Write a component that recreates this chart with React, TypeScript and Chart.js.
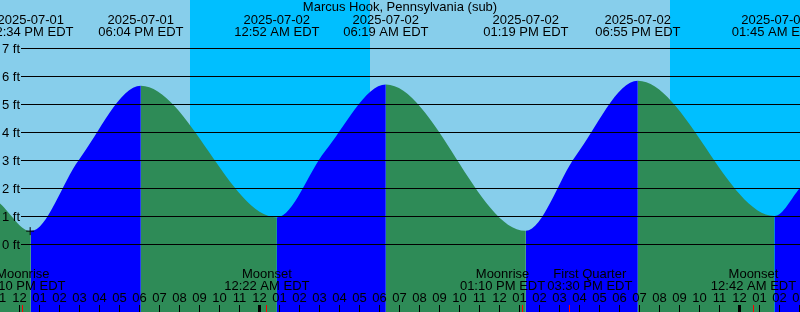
import React, { useEffect, useRef } from "react";
import { Chart, registerables } from "chart.js";

Chart.register(...registerables);

// ---------------- data ----------------
const TITLE = "Marcus Hook, Pennsylvania (sub)";
const TZ = "EDT";

// visible time window
const VIEW_START = "2025-07-01 11:01:30";
const VIEW_HOURS = 40;

// labelled highs / lows
const HILO_TIMES = [
  "2025-07-01 12:34",
  "2025-07-01 18:04",
  "2025-07-02 00:52",
  "2025-07-02 06:19",
  "2025-07-02 13:19",
  "2025-07-02 18:55",
  "2025-07-03 01:45",
];
const HILO_FT = [0.46, 5.65, 0.95, 5.7, 0.47, 5.83, 1.0];

// other curve readings: window edges and mid-flood levels
const CURVE_TIMES = [
  "2025-07-01 11:01:30",
  "2025-07-01 14:58",
  "2025-07-02 03:16",
  "2025-07-02 15:49",
  "2025-07-03 03:01:30",
];
const CURVE_FT = [1.45, 3.0, 3.3, 3.15, 2.0];

// night (sunset -> sunrise)
const NIGHT_STARTS = ["2025-07-01 20:30", "2025-07-02 20:30"];
const NIGHT_ENDS = ["2025-07-02 05:33", "2025-07-03 05:33"];

// moon events
const MOON_TIMES = [
  "2025-07-01 12:10",
  "2025-07-02 00:22",
  "2025-07-02 13:10",
  "2025-07-02 15:30",
  "2025-07-03 00:42",
];
const MOON_EVENTS = ["Moonrise", "Moonset", "Moonrise", "First Quarter", "Moonset"];

// level grid (ft)
const LEVELS_FT = [0, 1, 2, 3, 4, 5, 6, 7];
const Y_MIN_FT = -68 / 28;
const Y_MAX_FT = 244 / 28;

// "+" marker
const MARK_TIME = "2025-07-01 12:32";
const MARK_FT = 0.46;

// ---------------- styles ----------------
const DAY = "#87CEEB";
const NIGHT = "#00BFFF";
const RISE = "#0000FF";
const FALL = "#2E8B57";
const FONT = '13px "Liberation Sans", Arial, sans-serif';

// ---------------- helpers ----------------
function toHours(s: string): number {
  const [d, t] = s.split(" ");
  const day = parseInt(d.split("-")[2], 10) - 1;
  const p = t.split(":").map((v) => parseFloat(v));
  return day * 24 + p[0] + p[1] / 60 + (p[2] || 0) / 3600;
}
const pad2 = (n: number) => (n < 10 ? "0" : "") + n;
function fmtTime(s: string): string {
  const t = s.split(" ")[1].split(":").map((v) => parseInt(v, 10));
  const h = t[0];
  const h12 = h % 12 === 0 ? 12 : h % 12;
  return `${pad2(h12)}:${pad2(t[1])} ${h < 12 ? "AM" : "PM"} ${TZ}`;
}
const fmtDate = (s: string) => s.split(" ")[0];

const X_MIN = toHours(VIEW_START);
const X_MAX = X_MIN + VIEW_HOURS;

const decorPlugin = {
  id: "tideDecor",
  beforeDraw(chart: any) {
    const { ctx, chartArea: a, scales } = chart;
    const x = scales.x;
    ctx.save();
    ctx.fillStyle = DAY;
    ctx.fillRect(a.left, a.top, a.right - a.left, a.bottom - a.top);
    ctx.fillStyle = NIGHT;
    NIGHT_STARTS.forEach((s, i) => {
      const l = Math.max(a.left, Math.round(x.getPixelForValue(toHours(s))));
      const r = Math.min(a.right, Math.round(x.getPixelForValue(toHours(NIGHT_ENDS[i]))));
      if (r > l) ctx.fillRect(l, a.top, r - l, a.bottom - a.top);
    });
    ctx.restore();
  },
  afterDatasetsDraw(chart: any) {
    const { ctx, chartArea: a, scales } = chart;
    const x = scales.x;
    const y = scales.y;
    ctx.save();
    ctx.font = FONT;
    ctx.fillStyle = "#000";

    // level lines and labels
    const labelRight = a.left + 20;
    LEVELS_FT.forEach((lv) => {
      const py = Math.round(y.getPixelForValue(lv));
      ctx.fillStyle = "#000";
      ctx.fillRect(labelRight + 1, py, a.right - labelRight - 1, 1);
      ctx.textAlign = "right";
      ctx.textBaseline = "alphabetic";
      ctx.fillText(`${lv} ft`, labelRight, py + 4.5);
    });

    // hour ticks + labels
    const tickLen = 7;
    ctx.textAlign = "center";
    for (let h = Math.floor(X_MIN); h <= Math.ceil(X_MAX); h++) {
      const px = Math.floor(x.getPixelForValue(h));
      ctx.fillStyle = "#000";
      if (h % 24 === 0) ctx.fillRect(px - 1, a.bottom - tickLen, 3, tickLen);
      else ctx.fillRect(px, a.bottom - tickLen, 1, tickLen);
      const hh = h % 24;
      const h12 = hh % 12 === 0 ? 12 : hh % 12;
      ctx.fillText(pad2(h12), px + 0.5, a.bottom - 10);
    }

    // moon event ticks
    ctx.fillStyle = "#FF0000";
    MOON_TIMES.forEach((t) => {
      const px = Math.floor(x.getPixelForValue(toHours(t)));
      ctx.fillRect(px, a.bottom - tickLen, 1, tickLen);
    });

    // moon labels with simple collision spreading
    ctx.fillStyle = "#000";
    const gap = 2;
    const labels = MOON_TIMES.map((t, i) => {
      const l1 = MOON_EVENTS[i];
      const l2 = fmtTime(t);
      const w = Math.max(ctx.measureText(l1).width, ctx.measureText(l2).width);
      return { cx: x.getPixelForValue(toHours(t)), w, l1, l2 };
    });
    for (let i = 0; i + 1 < labels.length; i++) {
      const p = labels[i];
      const q = labels[i + 1];
      const need = (p.w + q.w) / 2 + gap;
      if (q.cx - p.cx < need) {
        const mid = (p.cx + q.cx) / 2;
        p.cx = mid - need / 2;
        q.cx = mid + need / 2;
      }
    }
    labels.forEach((lb) => {
      ctx.fillText(lb.l1, lb.cx, a.bottom - 34);
      ctx.fillText(lb.l2, lb.cx, a.bottom - 22);
    });

    // high / low labels
    HILO_TIMES.forEach((t) => {
      const px = x.getPixelForValue(toHours(t));
      ctx.fillText(fmtDate(t), px, a.top + 24);
      ctx.fillText(fmtTime(t), px, a.top + 36);
    });

    // title
    ctx.fillText(TITLE, (a.left + a.right) / 2, a.top + 11);
    ctx.restore();
  },
};

export default function App() {
  const ref = useRef<HTMLCanvasElement | null>(null);

  useEffect(() => {
    document.body.style.margin = "0";
    const canvas = ref.current;
    if (!canvas) return;
    const curve = [
      ...HILO_TIMES.map((t, i) => ({ x: toHours(t), y: HILO_FT[i] })),
      ...CURVE_TIMES.map((t, i) => ({ x: toHours(t), y: CURVE_FT[i] })),
    ].sort((p, q) => p.x - q.x);
    const chart = new Chart(canvas, {
      type: "line",
      data: {
        datasets: [
          {
            data: curve,
            fill: "start",
            borderWidth: 0,
            borderColor: "rgba(0,0,0,0)",
            backgroundColor: FALL,
            pointRadius: 0,
            cubicInterpolationMode: "monotone",
            segment: {
              backgroundColor: (c: any) => (c.p1.parsed.y > c.p0.parsed.y ? RISE : FALL),
            },
            order: 2,
          } as any,
          {
            type: "scatter",
            data: [{ x: toHours(MARK_TIME), y: MARK_FT }],
            pointStyle: "cross",
            pointRadius: 4,
            borderColor: "#000",
            borderWidth: 1,
            showLine: false,
            clip: false,
            order: 1,
          } as any,
        ],
      },
      options: {
        responsive: false,
        animation: false,
        events: [],
        layout: { padding: 0, autoPadding: false },
        plugins: {
          legend: { display: false },
          tooltip: { enabled: false },
        },
        scales: {
          x: { type: "linear", display: false, min: X_MIN, max: X_MAX },
          y: { type: "linear", display: false, min: Y_MIN_FT, max: Y_MAX_FT },
        },
      },
      plugins: [decorPlugin],
    } as any);
    return () => chart.destroy();
  }, []);

  return (
    <div style={{ width: 800, height: 312 }}>
      <canvas ref={ref} width={800} height={312} style={{ display: "block" }} />
    </div>
  );
}
